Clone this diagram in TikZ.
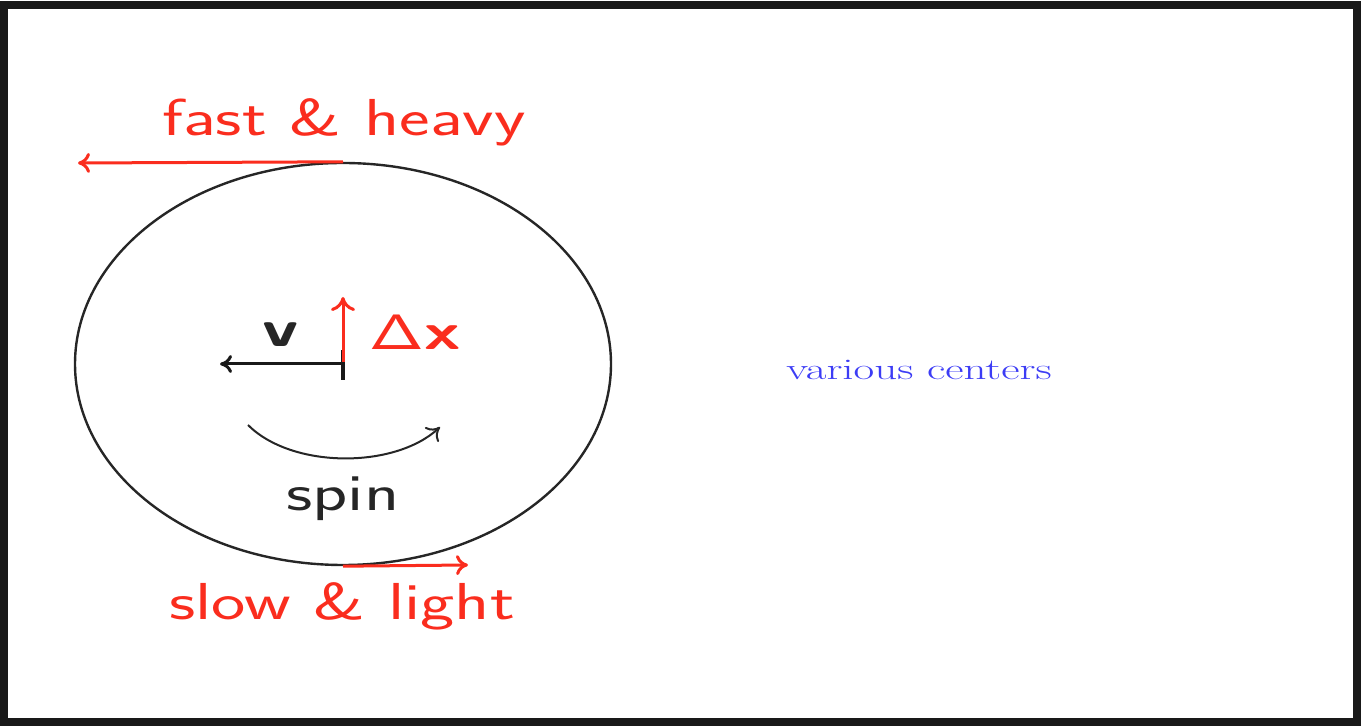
\documentclass[tikz,border=0pt]{standalone}
\usetikzlibrary{shapes.geometric,arrows.meta}
\definecolor{myred}{RGB}{250,45,30}
\definecolor{myblue}{RGB}{60,60,245}
\newcommand{\wide}[1]{\scalebox{1.40}[1]{#1}}
\newcommand{\wider}[1]{\scalebox{1.50}[1]{#1}}
\begin{document}
\begin{tikzpicture}[x=0.5pt,y=-0.5pt,
  lab/.style={inner sep=0pt,anchor=base,font=\sffamily\fontsize{26}{30}\selectfont},
  redlab/.style={lab,text=myred},
  redarrow/.style={myred,line width=1.5pt,-{To[length=6pt,width=10pt]}},
  blackarrow/.style={black!90,line width=1.5pt,-{To[length=6pt,width=9pt]}}]
\useasboundingbox (0,0) rectangle (1361,726);
\draw[line width=4pt,black!90] (4,5) rectangle (1357,722);
\node[draw=black!85,line width=1.2pt,ellipse,minimum width=268pt,minimum height=201pt,inner sep=0pt] (body) at (343,364) {};
\coordinate (c) at (343,364);
\coordinate (vend) at (220,364);
\coordinate (ticktop) at (343,350);
\coordinate (tickbot) at (343,380);
\coordinate (dxbot) at (343,362);
\coordinate (dxtop) at (343,297);
\coordinate (topL) at (78,163);
\coordinate (botR) at (468,565);
\coordinate (spinA) at (248,425);
\coordinate (spinB) at (440,427);
\draw[redarrow] (body.north) -- (topL);
\draw[redarrow] (body.south) -- (botR);
\draw[blackarrow] (c) -- (vend);
\draw[black!90,line width=2pt] (ticktop) -- (tickbot);
\draw[redarrow,-{To[length=7pt,width=12pt]}] (dxbot) -- (dxtop);
\draw[black!85,line width=1pt,-{To[length=6pt,width=10pt]}] (spinA) .. controls (292,469) and (395,469) .. (spinB);
\node[redlab] (fh) at (344,136) {\wide{fast \& heavy}};
\node[redlab] (sl) at (342,620) {\wide{slow \& light}};
\node[lab,text=black!85] (spin) at (343,511) {\wide{spin}};
\node[lab,font=\sffamily\bfseries\fontsize{26}{30}\selectfont,text=black!85] (v) at (281,347) {\wide{v}};
\node[lab,text=myred,font=\fontsize{26}{30}\selectfont] (dx) at (415,350) {\wide{$\mathsf{\Delta}$\textsf{\bfseries x}}};
\node[inner sep=0pt,anchor=base,text=myblue,font=\fontsize{15}{18}\selectfont] (vc) at (919,380) {\wider{various centers}};
\end{tikzpicture}
\end{document}
